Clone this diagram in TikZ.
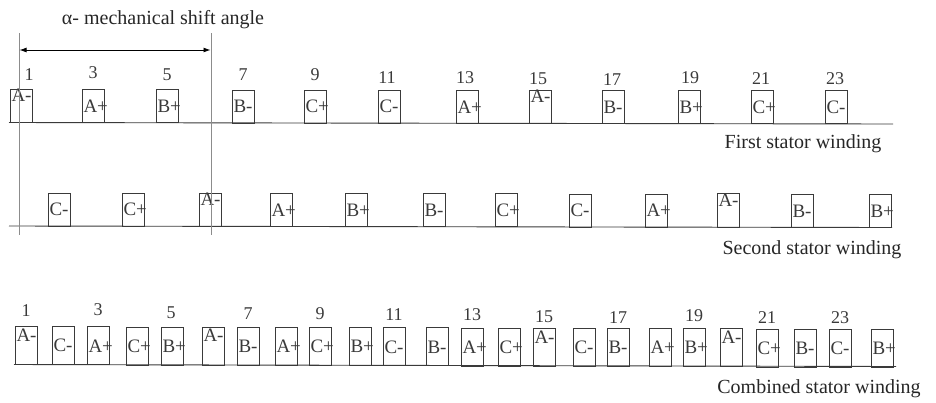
\documentclass[tikz,border=0pt]{standalone}
\usepackage{fontspec}
\setmainfont{Liberation Serif}
\usepackage{xcolor}
\usetikzlibrary{arrows.meta,positioning}
\definecolor{ink}{HTML}{3a3a3a}
\tikzset{
  slot/.style={draw=ink, line width=0.9pt, outer sep=0pt, inner xsep=1.5pt, inner ysep=0pt, text width=19pt, align=left, minimum height=33pt, text=ink, font=\fontsize{19}{21}\selectfont, yshift=-0.12pt},
  tallslot/.style={slot, minimum height=38pt},
  num/.style={inner sep=0pt, outer sep=0pt, text=ink, font=\fontsize{18}{20}\selectfont},
  lbl/.style={inner sep=0pt, text=black!85, font=\fontsize{20}{24}\selectfont},
  rail/.style={draw=ink, line width=0.9pt},
  guide/.style={draw=black!45, line width=0.9pt},
  span/.style={{Latex[length=7pt,width=5pt]}-{Latex[length=7pt,width=5pt]}, draw=black, line width=0.9pt},
}
\begin{document}
\begin{tikzpicture}[x=1pt,y=-1pt]
\useasboundingbox (0,0) rectangle (936,402);
\node[lbl] (title) at (163,20) {α- mechanical shift angle};
% first stator winding
\node[slot] (a1) at (21,106) {A-};
\node[slot, right=50pt of a1] (a3) {A+};
\node[slot, right=52pt of a3] (a5) {B+};
\node[slot, right=54pt of a5] (a7) {B-};
\node[slot, right=50pt of a7] (a9) {C+};
\node[slot, right=52pt of a9] (a11) {C-};
\node[slot, right=56pt of a11] (a13) {A+};
\node[slot, right=51pt of a13] (a15) {A-};
\node[slot, right=51pt of a15] (a17) {B-};
\node[slot, right=54pt of a17] (a19) {B+};
\node[slot, right=51pt of a19] (a21) {C+};
\node[slot, right=52pt of a21] (a23) {C-};
\node[num, above=9pt of a1, xshift=8pt] (na1) {1};
\node[num, above=11pt of a3] (na3) {3};
\node[num, above=9pt of a5] (na5) {5};
\node[num, above=9pt of a7] (na7) {7};
\node[num, above=9pt of a9] (na9) {9};
\node[num, above=7pt of a11, xshift=-2pt] (na11) {11};
\node[num, above=7pt of a13, xshift=-2pt] (na13) {13};
\node[num, above=6pt of a15, xshift=-2pt] (na15) {15};
\node[num, above=5pt of a17, xshift=-1pt] (na17) {17};
\node[num, above=7pt of a19, xshift=1pt] (na19) {19};
\node[num, above=6pt of a21, xshift=-1pt] (na21) {21};
\node[num, above=6pt of a23, xshift=-1pt] (na23) {23};
\coordinate (ra) at (9,122.5);
\coordinate (rb) at (893,124);
\draw[rail] (ra) -- (rb);
\node[lbl] (first) at (803,144) {First stator winding};
% second stator winding
\node[slot] (b1) at (59,209.5) {C-};
\node[slot, right=52pt of b1] (b2) {C+};
\node[slot, right=55pt of b2] (b3) {A-};
\node[slot, right=49pt of b3] (b4) {A+};
\node[slot, right=53pt of b4] (b5) {B+};
\node[slot, right=56pt of b5] (b6) {B-};
\node[slot, right=50pt of b6] (b7) {C+};
\node[slot, right=52pt of b7] (b8) {C-};
\node[slot, right=54pt of b8] (b9) {A+};
\node[slot, right=50pt of b9] (b10) {A-};
\node[slot, right=52pt of b10] (b11) {B-};
\node[slot, right=56pt of b11] (b12) {B+};
\coordinate (sa) at (9,226);
\coordinate (sb) at (892,227.5);
\draw[rail] (sa) -- (sb);
\node[lbl] (second) at (812,250) {Second stator winding};
% combined stator winding
\node[tallslot] (c1) at (26,345.5) {A-};
\node[tallslot, right=15pt of c1] (c2) {C-};
\node[tallslot, right=13pt of c2] (c3) {A+};
\node[tallslot, right=17pt of c3] (c4) {C+};
\node[tallslot, right=13pt of c4] (c5) {B+};
\node[tallslot, right=19pt of c5] (c6) {A-};
\node[tallslot, right=13pt of c6] (c7) {B-};
\node[tallslot, right=16pt of c7] (c8) {A+};
\node[tallslot, right=12pt of c8] (c9) {C+};
\node[tallslot, right=18pt of c9] (c10) {B+};
\node[tallslot, right=12pt of c10] (c11) {C-};
\node[tallslot, right=21pt of c11] (c12) {B-};
\node[tallslot, right=13pt of c12] (c13) {A+};
\node[tallslot, right=15pt of c13] (c14) {C+};
\node[tallslot, right=13pt of c14] (c15) {A-};
\node[tallslot, right=18pt of c15] (c16) {C-};
\node[tallslot, right=12pt of c16] (c17) {B-};
\node[tallslot, right=20pt of c17] (c18) {A+};
\node[tallslot, right=12pt of c18] (c19) {B+};
\node[tallslot, right=15pt of c19] (c20) {A-};
\node[tallslot, right=14pt of c20] (c21) {C+};
\node[tallslot, right=16pt of c21] (c22) {B-};
\node[tallslot, right=13pt of c22] (c23) {C-};
\node[tallslot, right=20pt of c23] (c24) {B+};
\node[num, above=10pt of c1] (nc1) {1};
\node[num, above=11pt of c3] (nc3) {3};
\node[num, above=8pt of c5, xshift=-1pt] (nc5) {5};
\node[num, above=8pt of c7] (nc7) {7};
\node[num, above=8pt of c9] (nc9) {9};
\node[num, above=7pt of c11] (nc11) {11};
\node[num, above=7pt of c13] (nc13) {13};
\node[num, above=6pt of c15] (nc15) {15};
\node[num, above=5pt of c17] (nc17) {17};
\node[num, above=7pt of c19] (nc19) {19};
\node[num, above=6pt of c21] (nc21) {21};
\node[num, above=6pt of c23] (nc23) {23};
\coordinate (ca) at (14,364.5);
\coordinate (cb) at (896,366.5);
\draw[rail] (ca) -- (cb);
\node[lbl] (combined) at (819,389) {Combined stator winding};
% shift angle
\coordinate (ga) at (19,33);
\coordinate (gb) at (19,235);
\coordinate (gc) at (211,33);
\coordinate (gd) at (211,235);
\draw[guide] (ga) -- (gb);
\draw[guide] (gc) -- (gd);
\coordinate (sl) at (19.5,50);
\coordinate (sr) at (210.5,50);
\draw[span] (sl) -- (sr);
\end{tikzpicture}
\end{document}
